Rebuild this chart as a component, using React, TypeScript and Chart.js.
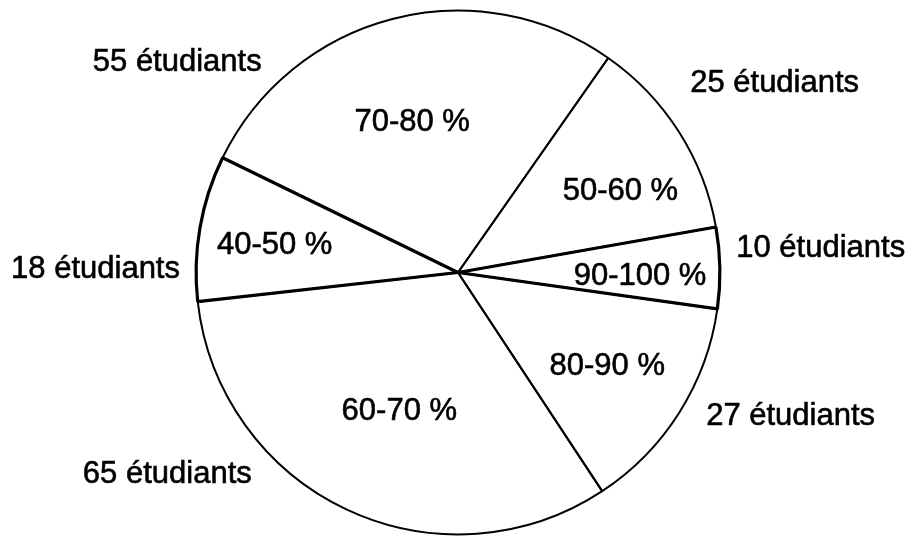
import React, { useEffect, useRef } from "react";
import { Chart, registerables } from "chart.js";

Chart.register(...registerables);

// Data
const categories = ["50-60 %", "90-100 %", "80-90 %", "60-70 %", "40-50 %", "70-80 %"];
const students = [25, 10, 27, 65, 18, 55];
const countLabels = students.map((n) => `${n} étudiants`);

// Layout (label anchor offsets relative to pie radius)
const innerOffsets: [number, number][] = [
  [0.62, -0.308],
  [0.695, 0.015],
  [0.57, 0.357],
  [-0.224, 0.529],
  [-0.7, -0.103],
  [-0.175, -0.574],
];
const outerOffsets: [number, number][] = [
  [1.209, -0.722],
  [1.385, -0.091],
  [1.27, 0.548],
  [-1.11, 0.772],
  [-1.384, -0.011],
  [-1.072, -0.802],
];
const borderWidths = [2, 3.2, 2, 2, 3.2, 2];

const labelPlugin = {
  id: "pieLabels",
  afterDraw(chart: any) {
    const meta = chart.getDatasetMeta(0);
    if (!meta || !meta.data.length) return;
    const arc = meta.data[0] as any;
    const cx = arc.x;
    const cy = arc.y;
    const r = arc.outerRadius;
    const ctx = chart.ctx;
    ctx.save();
    ctx.fillStyle = "#000";
    ctx.strokeStyle = "#000";
    ctx.lineWidth = 0.6;
    ctx.font = '31px "Liberation Sans", Arial, sans-serif';
    ctx.textAlign = "center";
    ctx.textBaseline = "middle";
    categories.forEach((c, i) => {
      const [ix, iy] = innerOffsets[i];
      ctx.fillText(c, cx + ix * r, cy + iy * r);
      ctx.strokeText(c, cx + ix * r, cy + iy * r);
      const [ox, oy] = outerOffsets[i];
      ctx.fillText(countLabels[i], cx + ox * r, cy + oy * r);
      ctx.strokeText(countLabels[i], cx + ox * r, cy + oy * r);
    });
    ctx.restore();
  },
};

export default function App() {
  const ref = useRef<HTMLCanvasElement | null>(null);
  useEffect(() => {
    document.body.style.margin = "0";
    document.body.style.background = "#fff";
    if (!ref.current) return;
    const chart = new Chart(ref.current, {
      type: "pie",
      data: {
        labels: categories,
        datasets: [
          {
            data: students,
            backgroundColor: "rgba(255,255,255,0)",
            borderColor: "#000",
            borderWidth: borderWidths,
            borderAlign: "center",
          },
        ],
      },
      options: {
        responsive: false,
        animation: false,
        rotation: 35,
        layout: { padding: { top: 9, bottom: 8, left: 0, right: 0 } },
        plugins: {
          legend: { display: false },
          tooltip: { enabled: false },
        },
      },
      plugins: [labelPlugin],
    });
    return () => chart.destroy();
  }, []);
  return (
    <div style={{ width: 916, height: 544, background: "#fff" }}>
      <canvas ref={ref} width={916} height={544} />
    </div>
  );
}
